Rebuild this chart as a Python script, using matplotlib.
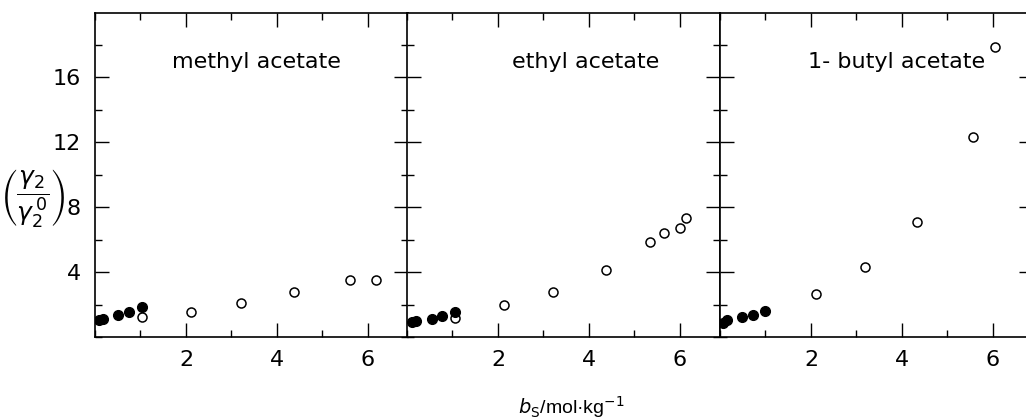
import matplotlib
matplotlib.use("Agg")
import matplotlib.pyplot as plt
from matplotlib.ticker import MultipleLocator, FixedLocator

plt.rcParams['mathtext.fontset'] = 'dejavusans'

# ---- data (molality b_s / mol kg^-1, activity-coefficient ratio) ----
names = ["methyl acetate", "ethyl acetate", "1- butyl acetate"]

me_fill_x = [0.09, 0.17, 0.50, 0.75, 1.03]
me_fill_y = [1.05, 1.10, 1.35, 1.52, 1.83]
me_open_x = [1.03, 2.12, 3.21, 4.37, 5.61, 6.18]
me_open_y = [1.21, 1.52, 2.07, 2.75, 3.49, 3.49]

et_fill_x = [0.10, 0.20, 0.54, 0.78, 1.05]
et_fill_y = [0.94, 0.98, 1.10, 1.29, 1.52]
et_open_x = [1.05, 2.14, 3.22, 4.38, 5.34, 5.65, 5.99, 6.14]
et_open_y = [1.15, 2.00, 2.79, 4.12, 5.87, 6.38, 6.69, 7.30]

bu_fill_x = [0.07, 0.15, 0.48, 0.73, 0.99]
bu_fill_y = [0.88, 1.05, 1.21, 1.35, 1.62]
bu_open_x = [2.10, 3.18, 4.33, 5.57, 6.05]
bu_open_y = [2.63, 4.29, 7.06, 12.33, 17.86]

fill_x = [me_fill_x, et_fill_x, bu_fill_x]
fill_y = [me_fill_y, et_fill_y, bu_fill_y]
open_x = [me_open_x, et_open_x, bu_open_x]
open_y = [me_open_y, et_open_y, bu_open_y]

x_ticks = [2, 4, 6]
y_ticks = [4, 8, 12, 16]

W, H = 1026, 420
fig = plt.figure(figsize=(W / 100, H / 100), dpi=100)

tick_font = dict(family='DejaVu Sans', size=16)
lefts = [95, 407, 720]
pw = 313
bottom_px, top_px = 337, 13

for i in range(3):
    ax = fig.add_axes([lefts[i] / W, (H - bottom_px) / H, pw / W, (bottom_px - top_px) / H])
    ax.set_xlim(0, 6.88)
    ax.set_ylim(0, 19.95)
    ax.plot(open_x[i], open_y[i], 'o', mfc='white', mec='black', mew=1.1, ms=6.5, ls='none')
    ax.plot(fill_x[i], fill_y[i], 'o', color='black', ms=7, ls='none')
    ax.xaxis.set_major_locator(FixedLocator(x_ticks))
    ax.xaxis.set_minor_locator(MultipleLocator(1))
    ax.yaxis.set_major_locator(FixedLocator(y_ticks))
    ax.yaxis.set_minor_locator(MultipleLocator(2))
    ax.tick_params(which='both', direction='in', top=True, right=True, width=1.0)
    ax.tick_params(which='major', length=10)
    ax.tick_params(which='minor', length=5)
    ax.tick_params(axis='x', which='major', pad=9)
    ax.tick_params(axis='y', which='major', pad=10)
    for lab in ax.get_xticklabels():
        lab.set_fontproperties(matplotlib.font_manager.FontProperties(**tick_font))
    if i == 0:
        ax.set_yticklabels([str(v) for v in y_ticks])
        for lab in ax.get_yticklabels():
            lab.set_fontproperties(matplotlib.font_manager.FontProperties(**tick_font))
    else:
        ax.set_yticklabels([])
    for s in ax.spines.values():
        s.set_linewidth(1.2)

title_cx = [256, 586, 897]
for i in range(3):
    fig.text(title_cx[i] / W, 1 - 68 / H, names[i], ha='center', va='baseline',
             family='DejaVu Sans', size=16)

fig.text(33 / W, 1 - 198 / H, r'$\left(\dfrac{\gamma_2}{\gamma_2^{\,0}}\right)$',
         ha='center', va='center', size=18)

fig.text(571 / W, 1 - 414 / H, r'$b_\mathrm{S}$/mol·kg$^{-1}$', ha='center', va='baseline',
         family='Liberation Sans', size=14)

fig.savefig('out.png', dpi=100)
